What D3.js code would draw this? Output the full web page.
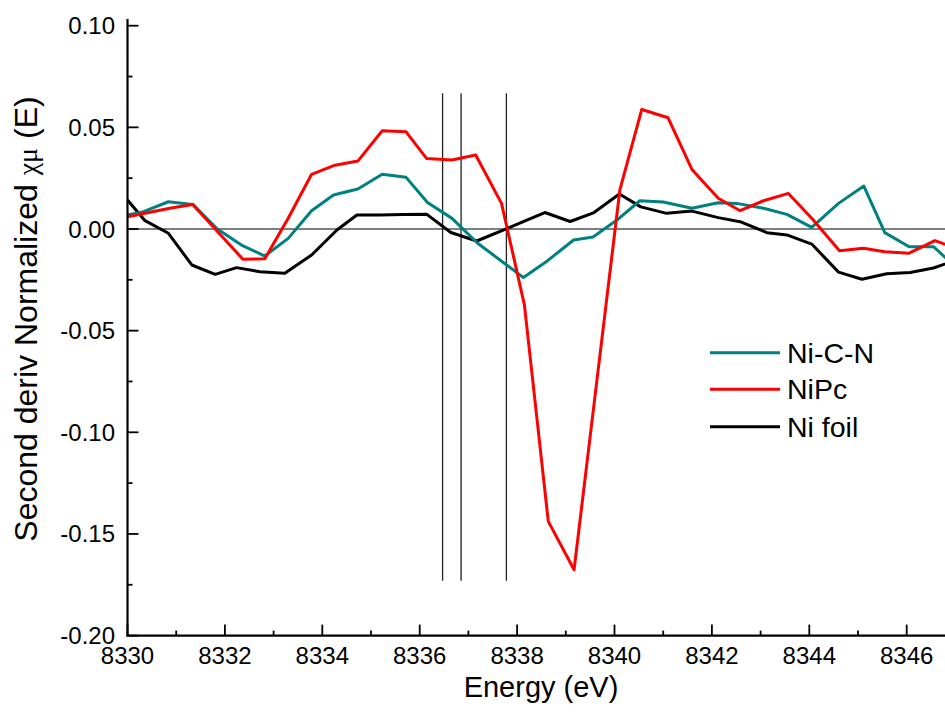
<!DOCTYPE html>
<html>
<head>
<meta charset="utf-8">
<script src="https://cdn.jsdelivr.net/npm/d3@7"></script>
<style>
  html, body { margin: 0; padding: 0; background: #fff; }
  svg { display: block; }
  text { font-family: "Liberation Sans", Arial, sans-serif; fill: #000; }
</style>
</head>
<body>
<svg id="chart" width="945" height="727"></svg>
<script>
// ---- data ----
const seriesNames = ["Ni-C-N", "NiPc", "Ni foil"];
const seriesColors = ["#008080", "#ff0000", "#000000"];

const niCN_E = [8330.0, 8330.29, 8330.84, 8331.34, 8331.83, 8332.34, 8332.82, 8333.30, 8333.78, 8334.23, 8334.73, 8335.23, 8335.72, 8336.16, 8336.67, 8337.19, 8337.73, 8338.13, 8338.62, 8339.16, 8339.56, 8340.05, 8340.52, 8341.00, 8341.59, 8342.13, 8342.51, 8343.06, 8343.54, 8344.05, 8344.60, 8345.12, 8345.55, 8346.05, 8346.55, 8347.03];
const niCN_V = [0.0069, 0.0082, 0.0134, 0.0121, 0.0003, -0.0079, -0.0133, -0.0046, 0.0090, 0.0167, 0.0197, 0.0269, 0.0254, 0.0130, 0.0051, -0.0070, -0.0167, -0.0239, -0.0157, -0.0054, -0.0039, 0.0044, 0.0139, 0.0133, 0.0102, 0.0129, 0.0126, 0.0102, 0.0072, 0.0008, 0.0126, 0.0211, -0.0018, -0.0087, -0.0087, -0.0192];

const niPc_E = [8330.0, 8330.87, 8331.34, 8332.37, 8332.82, 8333.30, 8333.78, 8334.26, 8334.73, 8335.23, 8335.72, 8336.14, 8336.66, 8337.15, 8337.68, 8338.15, 8338.64, 8339.17, 8339.64, 8340.11, 8340.56, 8341.10, 8341.59, 8342.13, 8342.58, 8343.06, 8343.57, 8344.05, 8344.62, 8345.11, 8345.55, 8346.05, 8346.58, 8347.05];
const niPc_V = [0.0060, 0.0102, 0.0121, -0.0149, -0.0146, 0.0053, 0.0269, 0.0314, 0.0334, 0.0483, 0.0478, 0.0347, 0.0339, 0.0364, 0.0126, -0.0373, -0.1438, -0.1676, -0.0742, 0.0192, 0.0588, 0.0547, 0.0293, 0.0151, 0.0090, 0.0139, 0.0175, 0.0053, -0.0107, -0.0095, -0.0112, -0.0119, -0.0057, -0.0098];

const niFoil_E = [8330.0, 8330.36, 8330.84, 8331.32, 8331.80, 8332.24, 8332.72, 8333.23, 8333.78, 8334.30, 8334.71, 8335.18, 8335.66, 8336.14, 8336.64, 8337.17, 8337.79, 8338.20, 8338.57, 8339.09, 8339.58, 8340.10, 8340.54, 8341.07, 8341.59, 8342.13, 8342.58, 8343.13, 8343.54, 8344.05, 8344.60, 8345.08, 8345.59, 8346.07, 8346.55, 8347.03];
const niFoil_V = [0.0143, 0.0041, -0.0021, -0.0177, -0.0223, -0.0190, -0.0210, -0.0218, -0.0128, -0.0005, 0.0069, 0.0069, 0.0071, 0.0073, -0.0017, -0.0059, 0.0002, 0.0044, 0.0081, 0.0037, 0.0081, 0.0172, 0.0109, 0.0077, 0.0088, 0.0056, 0.0036, -0.0018, -0.0029, -0.0074, -0.0212, -0.0247, -0.0220, -0.0214, -0.0192, -0.0152];

const markerLinesE = [8336.47, 8336.85, 8337.78];
const markerLineTop = 0.0668;
const markerLineBottom = -0.173;

const xTickValues = [8330, 8332, 8334, 8336, 8338, 8340, 8342, 8344, 8346];
const xMinorTickValues = [8331, 8333, 8335, 8337, 8339, 8341, 8343, 8345, 8347];
const yTickValues = [-0.20, -0.15, -0.10, -0.05, 0.00, 0.05, 0.10];
const yMinorTickValues = [-0.175, -0.125, -0.075, -0.025, 0.025, 0.075];

const xTitle = "Energy (eV)";

// ---- drawing ----
const svg = d3.select("#chart");
svg.append("rect").attr("width", 945).attr("height", 727).attr("fill", "#fff");

const x = d3.scaleLinear().domain([8330, 8348]).range([127.5, 127.5 + 18 * 48.7]);
const y = d3.scaleLinear().domain([-0.2, 0.1]).range([635.6, 25.7]);

const fmtY = v => d3.format(".2f")(v).replace("\u2212", "-");

// zero line
svg.append("line")
  .attr("x1", x(8330)).attr("x2", 945)
  .attr("y1", y(0)).attr("y2", y(0))
  .attr("stroke", "#000").attr("stroke-width", 1);

// marker vertical lines
svg.selectAll("line.marker").data(markerLinesE).enter().append("line")
  .attr("class", "marker")
  .attr("x1", d => x(d)).attr("x2", d => x(d))
  .attr("y1", y(markerLineTop)).attr("y2", y(markerLineBottom))
  .attr("stroke", "#222").attr("stroke-width", 1.3);

// series
const series = [
  { E: niCN_E, V: niCN_V },
  { E: niPc_E, V: niPc_V },
  { E: niFoil_E, V: niFoil_V }
];
const line = d3.line().x(d => x(d[0])).y(d => y(d[1]));
const order = [2, 0, 1];
order.forEach(i => {
  const s = series[i];
  const pts = s.E.map((e, k) => [e, s.V[k]]);
  svg.append("path")
    .attr("d", line(pts))
    .attr("fill", "none")
    .attr("stroke", seriesColors[i])
    .attr("stroke-width", 3)
    .attr("stroke-linejoin", "round");
});

// axes
const axisG = svg.append("g");
axisG.append("line")
  .attr("x1", x(8330) - 1).attr("x2", 945)
  .attr("y1", y(-0.2)).attr("y2", y(-0.2))
  .attr("stroke", "#000").attr("stroke-width", 2.2);
axisG.append("line")
  .attr("x1", x(8330)).attr("x2", x(8330))
  .attr("y1", y(-0.2) + 1).attr("y2", 19)
  .attr("stroke", "#000").attr("stroke-width", 2.2);

axisG.selectAll("line.xt").data(xTickValues).enter().append("line")
  .attr("x1", d => x(d)).attr("x2", d => x(d))
  .attr("y1", y(-0.2)).attr("y2", y(-0.2) - 11)
  .attr("stroke", "#000").attr("stroke-width", 1.8);
axisG.selectAll("line.xm").data(xMinorTickValues).enter().append("line")
  .attr("x1", d => x(d)).attr("x2", d => x(d))
  .attr("y1", y(-0.2)).attr("y2", y(-0.2) - 5)
  .attr("stroke", "#000").attr("stroke-width", 1.8);
axisG.selectAll("text.xl").data(xTickValues).enter().append("text")
  .attr("x", d => x(d)).attr("y", 664)
  .attr("text-anchor", "middle")
  .attr("font-size", 24)
  .text(d => d);

axisG.selectAll("line.yt").data(yTickValues).enter().append("line")
  .attr("x1", x(8330)).attr("x2", x(8330) + 11)
  .attr("y1", d => y(d)).attr("y2", d => y(d))
  .attr("stroke", "#000").attr("stroke-width", 1.8);
axisG.selectAll("line.ym").data(yMinorTickValues).enter().append("line")
  .attr("x1", x(8330)).attr("x2", x(8330) + 5)
  .attr("y1", d => y(d)).attr("y2", d => y(d))
  .attr("stroke", "#000").attr("stroke-width", 1.8);
axisG.selectAll("text.yl").data(yTickValues).enter().append("text")
  .attr("x", 115).attr("y", d => y(d) + 8.5)
  .attr("text-anchor", "end")
  .attr("font-size", 24)
  .text(d => fmtY(d));

// axis titles
svg.append("text")
  .attr("x", 541).attr("y", 697)
  .attr("text-anchor", "middle")
  .attr("font-size", 29)
  .text(xTitle);

const yt = svg.append("text")
  .attr("transform", "translate(37,319) rotate(-90)")
  .attr("text-anchor", "middle")
  .attr("font-size", 32);
yt.append("tspan").text("Second deriv Normalized ");
yt.append("tspan").attr("font-family", "'Liberation Serif', serif").attr("font-size", 28).text("\u03C7\u03BC");
yt.append("tspan").text(" (E)");

// legend
const legY = [352.7, 389.3, 426.7];
const leg = svg.append("g");
seriesNames.forEach((name, i) => {
  leg.append("line")
    .attr("x1", 710).attr("x2", 780)
    .attr("y1", legY[i]).attr("y2", legY[i])
    .attr("stroke", seriesColors[i]).attr("stroke-width", 3);
  leg.append("text")
    .attr("x", 787).attr("y", legY[i] + 10)
    .attr("font-size", 28.5)
    .text(name);
});
</script>
</body>
</html>
